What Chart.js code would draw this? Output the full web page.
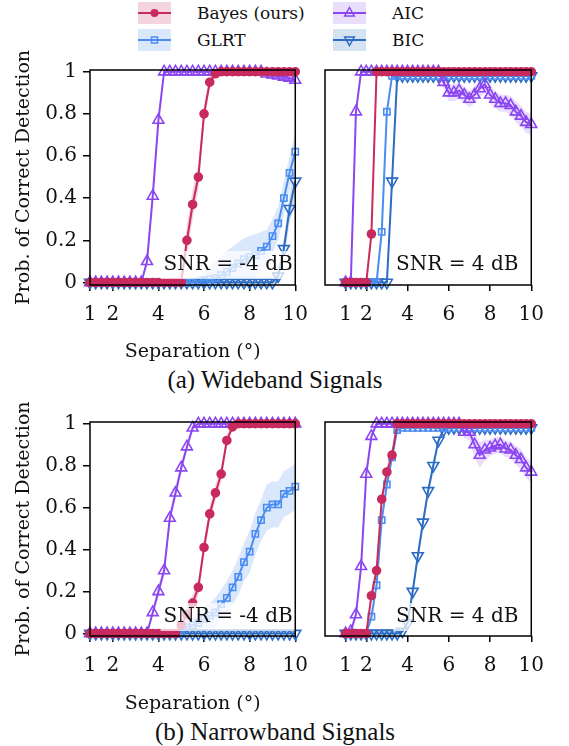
<!DOCTYPE html>
<html>
<head>
<meta charset="utf-8">
<script src="https://cdn.jsdelivr.net/npm/chart.js@4.4.0/dist/chart.umd.min.js"></script>
<style>
  body { margin: 0; background: #fff; width: 569px; height: 746px; position: relative; overflow: hidden; font-family: "DejaVu Serif", serif; color: #111; }
  canvas { position: absolute; }
  .lg { position: absolute; height: 22px; }
  .lg svg { position: absolute; left: 0; top: 0; }
  .lg span { position: absolute; left: 59px; top: 0; line-height: 22px; font-size: 17px; white-space: nowrap; }
  .cap { position: absolute; left: 0; width: 550px; text-align: center; font-family: "Liberation Serif", serif; font-size: 25px; }
</style>
</head>
<body>
<div id="legend"></div>
<canvas id="wbLo" width="320" height="314" style="left:0;top:50px"></canvas>
<canvas id="wbHi" width="244" height="314" style="left:312px;top:50px"></canvas>
<div class="cap" style="top:366px">(a) Wideband Signals</div>
<canvas id="nbLo" width="320" height="314" style="left:0;top:402px"></canvas>
<canvas id="nbHi" width="244" height="314" style="left:312px;top:402px"></canvas>
<div class="cap" style="top:718px">(b) Narrowband Signals</div>
<script>
// separation grid (degrees)
const sep = [1,1.25,1.5,1.75,2,2.25,2.5,2.75,3,3.25, 3.5,3.75,4,4.25,4.5,4.75,5,5.25,5.5,5.75, 6,6.25,6.5,6.75,7,7.25,7.5,7.75,8,8.25, 8.5,8.75,9,9.25,9.5,9.75,10];
const xTicks = [1, 2, 4, 6, 8, 10];
const yTicks = [0, 0.2, 0.4, 0.6, 0.8, 1];

// wideband, SNR = -4 dB
const wbLoBayes   = [0,0,0,0,0,0,0,0,0,0, 0,0,0,0,0,0,0,0.2,0.37,0.5, 0.8,0.95,0.99,1,1,1,1,1,1,1, 1,1,1,1,1,1,1];
const wbLoBayesCi = [0,0,0,0,0,0,0,0,0,0, 0,0,0,0,0,0.02,0.05,0.07,0.07,0.06, 0.05,0.03,0.01,0,0,0,0,0,0,0, 0,0,0,0,0,0,0];
const wbLoAic     = [0,0,0,0,0,0,0,0,0,0, 0.1,0.41,0.77,1,1,1,1,1,1,1, 1,1,1,1,1,1,1,1,1,1, 1,0.99,0.985,0.98,0.975,0.97,0.96];
const wbLoAicCi   = [0,0,0,0,0,0,0,0,0,0, 0.03,0.04,0.03,0.01,0,0,0,0,0,0, 0,0,0,0,0,0,0,0,0,0, 0,0.01,0.01,0.01,0.015,0.015,0.02];
const wbLoGlrt    = [0,0,0,0,0,0,0,0,0,0, 0,0,0,0,0,0,0,0,0,0.005, 0.01,0.015,0.02,0.035,0.05,0.07,0.09,0.11,0.12,0.13, 0.15,0.17,0.22,0.28,0.4,0.52,0.62];
const wbLoGlrtCi  = [0,0,0,0,0,0,0,0,0,0, 0,0,0,0,0,0,0,0,0.01,0.02, 0.04,0.06,0.08,0.09,0.1,0.1,0.1,0.1,0.1,0.1, 0.09,0.08,0.08,0.08,0.08,0.08,0.09];
const wbLoBic     = [0,0,0,0,0,0,0,0,0,0, 0,0,0,0,0,0,0,0,0,0, 0,0,0,0,0,0,0,0,0,0, 0,0,0,0.03,0.16,0.35,0.48];
const wbLoBicCi   = [0,0,0,0,0,0,0,0,0,0, 0,0,0,0,0,0,0,0,0,0, 0.01,0.02,0.02,0.03,0.03,0.03,0.03,0.03,0.03,0.03, 0.03,0.03,0.03,0.04,0.05,0.07,0.08];

// wideband, SNR = 4 dB
const wbHiBayes   = [0,0,0,0,0,0.23,1,1,1,1, 1,1,1,1,1,1,1,1,1,1, 1,1,1,1,1,1,1,1,1,1, 1,1,1,1,1,1,1];
const wbHiBayesCi = [0,0,0,0,0,0.03,0,0,0,0, 0,0,0,0,0,0,0,0,0,0, 0,0,0,0,0,0,0,0,0,0, 0,0,0,0,0,0,0];
const wbHiAic     = [0,0,0.81,1,1,1,1,1,1,1, 1,1,1,1,1,1,1,1,1,0.95, 0.9,0.9,0.91,0.89,0.87,0.89,0.92,0.94,0.89,0.87, 0.85,0.85,0.84,0.81,0.79,0.76,0.75];
const wbHiAicCi   = [0,0,0.03,0,0,0,0,0,0,0, 0,0,0,0,0,0,0,0,0.01,0.03, 0.04,0.04,0.04,0.04,0.04,0.04,0.04,0.04,0.04,0.04, 0.04,0.04,0.045,0.05,0.05,0.05,0.05];
const wbHiGlrt    = [0,0,0,0,0,0,0,0.24,0.81,0.98, 0.98,0.98,0.98,0.98,0.98,0.98,0.98,0.98,0.98,0.98, 0.98,0.98,0.98,0.98,0.98,0.98,0.98,0.98,0.98,0.98, 0.98,0.98,0.98,0.98,0.98,0.98,0.98];
const wbHiGlrtCi  = [0,0,0,0,0,0,0,0.03,0.03,0.01, 0,0,0,0,0,0,0,0,0,0, 0,0,0,0,0,0,0,0,0,0, 0,0,0,0,0,0,0];
const wbHiBic     = [0,0,0,0,0,0,0,0,0,0.48, 0.98,0.98,0.98,0.98,0.98,0.98,0.98,0.98,0.98,0.98, 0.98,0.98,0.98,0.98,0.98,0.98,0.98,0.98,0.98,0.98, 0.98,0.98,0.98,0.98,0.98,0.98,0.98];
const wbHiBicCi   = [0,0,0,0,0,0,0,0,0,0.04, 0,0,0,0,0,0,0,0,0,0, 0,0,0,0,0,0,0,0,0,0, 0,0,0,0,0,0,0];

// narrowband, SNR = -4 dB
const nbLoBayes   = [0,0,0,0,0,0,0,0,0,0, 0,0,0,0,0,0,0.04,0.09,0.145,0.22, 0.41,0.57,0.67,0.76,0.92,0.985,1,1,1,1, 1,1,1,1,1,1,1];
const nbLoBayesCi = [0,0,0,0,0,0,0,0,0,0, 0,0,0,0,0,0.01,0.03,0.04,0.04,0.04, 0.04,0.04,0.04,0.04,0.03,0.01,0,0,0,0, 0,0,0,0,0,0,0];
const nbLoAic     = [0,0,0,0,0,0,0,0,0,0, 0,0.1,0.2,0.3,0.55,0.67,0.79,0.89,0.98,1, 1,1,1,1,1,1,1,1,1,1, 1,1,1,1,1,1,1];
const nbLoAicCi   = [0,0,0,0,0,0,0,0,0,0, 0,0.02,0.03,0.03,0.03,0.03,0.03,0.02,0.01,0, 0,0,0,0,0,0,0,0,0,0, 0,0,0,0,0,0,0];
const nbLoGlrt    = [0,0,0,0,0,0,0,0,0,0, 0,0,0,0,0,0,0,0.03,0.04,0.05, 0.07,0.085,0.1,0.14,0.17,0.22,0.27,0.34,0.39,0.475, 0.54,0.6,0.615,0.615,0.665,0.68,0.7];
const nbLoGlrtCi  = [0,0,0,0,0,0,0,0,0,0, 0,0,0,0,0,0,0.02,0.03,0.04,0.05, 0.06,0.06,0.07,0.07,0.08,0.08,0.09,0.09,0.1,0.1, 0.1,0.11,0.11,0.11,0.11,0.11,0.11];
const nbLoBic     = [0,0,0,0,0,0,0,0,0,0, 0,0,0,0,0,0,0,0,0,0, 0,0,0,0,0,0,0,0,0,0, 0,0,0,0,0,0,0];
const nbLoBicCi   = [0,0,0,0,0,0,0,0,0,0, 0,0,0,0,0,0,0,0,0,0, 0,0,0,0,0,0,0,0,0,0, 0,0,0,0,0,0,0];

// narrowband, SNR = 4 dB
const nbHiBayes   = [0,0,0,0,0,0.18,0.3,0.64,0.77,0.85, 1,1,1,1,1,1,1,1,1,1, 1,1,1,1,1,1,1,1,1,1, 1,1,1,1,1,1,1];
const nbHiBayesCi = [0,0,0,0,0,0.03,0.03,0.03,0.03,0.03, 0,0,0,0,0,0,0,0,0,0, 0,0,0,0,0,0,0,0,0,0, 0,0,0,0,0,0,0];
const nbHiAic     = [0,0.01,0.09,0.32,0.76,0.94,1,1,1,1, 1,1,1,1,1,1,1,1,1,1, 1,1,1,0.96,0.96,0.9,0.85,0.875,0.885,0.895, 0.9,0.88,0.875,0.85,0.83,0.79,0.77];
const nbHiAicCi   = [0,0,0.02,0.03,0.03,0.02,0,0,0,0, 0,0,0,0,0,0,0,0,0,0, 0,0,0.01,0.03,0.04,0.06,0.06,0.05,0.04,0.04, 0.04,0.04,0.04,0.045,0.05,0.05,0.05];
const nbHiGlrt    = [0,0,0,0,0,0.08,0.23,0.54,0.71,0.84, 0.97,0.98,0.98,0.98,0.98,0.98,0.98,0.98,0.98,0.98, 0.98,0.98,0.98,0.98,0.98,0.98,0.98,0.98,0.98,0.98, 0.98,0.98,0.98,0.98,0.98,0.98,0.98];
const nbHiGlrtCi  = [0,0,0,0,0,0.03,0.03,0.03,0.03,0.03, 0.01,0,0,0,0,0,0,0,0,0, 0,0,0,0,0,0,0,0,0,0, 0,0,0,0,0,0,0];
const nbHiBic     = [0,0,0,0,0,0,0,0,0,0, 0,0.01,0.05,0.2,0.37,0.53,0.68,0.8,0.92,0.97, 0.98,0.98,0.98,0.98,0.98,0.98,0.98,0.98,0.98,0.98, 0.98,0.98,0.98,0.98,0.98,0.98,0.98];
const nbHiBicCi   = [0,0,0,0,0,0,0,0,0,0, 0,0.01,0.02,0.03,0.03,0.03,0.03,0.03,0.02,0.01, 0,0,0,0,0,0,0,0,0,0, 0,0,0,0,0,0,0];

const methods = [
  { name: 'Bayes (ours)', color: '#c92a5e', band: 'rgba(201,42,94,0.2)',  style: 'circle',   rot: 0,   r: 4,   filled: true },
  { name: 'AIC',          color: '#8b46f2', band: 'rgba(139,70,242,0.18)', style: 'triangle', rot: 0,   r: 6.3, filled: false },
  { name: 'GLRT',         color: '#4b8df0', band: 'rgba(75,141,240,0.2)',  style: 'rect',     rot: 0,   r: 4.4, filled: false },
  { name: 'BIC',          color: '#2c6cc2', band: 'rgba(44,108,194,0.2)',  style: 'triangle', rot: 180, r: 6.3, filled: false }
];

// legend (two columns)
const legendPos = [[138, 2], [333, 2], [138, 29], [333, 29]];
const marks = {
  circle: c => `<circle cx="16.5" cy="11" r="4" fill="${c}"/>`,
  triangle: c => `<polygon points="16.5,5.5 21.3,14 11.7,14" fill="none" stroke="${c}" stroke-width="1.5"/>`,
  rect: c => `<rect x="13.5" y="8" width="6" height="6" fill="none" stroke="${c}" stroke-width="1.5"/>`,
  down: c => `<polygon points="16.5,16.5 21.3,8 11.7,8" fill="none" stroke="${c}" stroke-width="1.5"/>`
};
document.getElementById('legend').innerHTML = methods.map((m, i) => {
  const mk = m.rot ? marks.down(m.color) : marks[m.style](m.color);
  return `<div class="lg" style="left:${legendPos[i][0]}px;top:${legendPos[i][1]}px">
    <svg width="33" height="22"><rect width="33" height="22" fill="${m.band}"/>
    <line x1="0" y1="11" x2="33" y2="11" stroke="${m.color}" stroke-width="2"/>${mk}</svg>
    <span>${m.name}</span></div>`;
}).join('');

const snrBox = {
  id: 'snrBox',
  afterDatasetsDraw(chart, args, o) {
    const { ctx, chartArea: a } = chart;
    ctx.save();
    ctx.font = '20px "DejaVu Serif"';
    const w = ctx.measureText(o.text).width;
    const cx = a.left + o.fx * (a.right - a.left);
    const cy = a.bottom - o.dy;
    ctx.fillStyle = 'rgba(255,255,255,0.72)';
    ctx.fillRect(cx - w / 2 - 3, cy - 14, w + 6, 28);
    ctx.fillStyle = '#111';
    ctx.textAlign = 'center';
    ctx.textBaseline = 'middle';
    ctx.fillText(o.text, cx, cy);
    ctx.restore();
  },
  afterDraw(chart) {
    const { ctx, chartArea: a } = chart;
    ctx.save();
    ctx.strokeStyle = '#000';
    ctx.lineWidth = 1.5;
    ctx.strokeRect(a.left, a.top, a.right - a.left, a.bottom - a.top);
    ctx.restore();
  }
};

function pts(v) { return sep.map((x, i) => ({ x, y: v[i] })); }

function panel(id, series, opt) {
  const datasets = [];
  series.forEach(([v, ci], k) => {
    const m = methods[k];
    datasets.push({ data: sep.map((x, i) => ({ x, y: Math.max(0, v[i] - ci[i]) })),
      borderWidth: 0, pointRadius: 0, fill: false, order: 10 });
    datasets.push({ data: sep.map((x, i) => ({ x, y: Math.min(1, v[i] + ci[i]) })),
      borderWidth: 0, pointRadius: 0, fill: '-1', backgroundColor: m.band, order: 10 });
  });
  series.forEach(([v], k) => {
    const m = methods[k];
    datasets.push({
      data: pts(v),
      borderColor: m.color,
      borderWidth: 2,
      pointStyle: m.style,
      pointRotation: m.rot,
      pointRadius: m.r,
      pointBorderWidth: 1.6,
      pointBorderColor: m.color,
      pointBackgroundColor: m.filled ? m.color : 'rgba(0,0,0,0)',
      fill: false,
      clip: false,
      order: k
    });
  });

  const tickFont = { family: 'DejaVu Serif', size: 20 };
  const titleFont = { family: 'DejaVu Serif', size: 19 };

  new Chart(document.getElementById(id), {
    type: 'line',
    data: { datasets },
    plugins: [snrBox],
    options: {
      responsive: false,
      animation: false,
      events: [],
      layout: { padding: { top: 20, left: opt.left ? 0 : 13, right: opt.left ? 14 : 15, bottom: 0 } },
      plugins: {
        legend: { display: false },
        tooltip: { enabled: false },
        snrBox: { text: opt.snr, fx: opt.fx, dy: opt.dy }
      },
      scales: {
        x: {
          type: 'linear',
          min: opt.xmin,
          max: 10,
          afterBuildTicks: s => { s.ticks = xTicks.map(v => ({ value: v })); },
          afterFit: s => { s.height = opt.xh; },
          ticks: { font: tickFont, color: '#111', padding: 12, maxRotation: 0, autoSkip: false, callback: v => String(v) },
          grid: { drawOnChartArea: false, tickLength: 6, color: '#000', lineWidth: 1.5 },
          border: { display: false },
          title: { display: opt.left, text: 'Separation (°)', font: titleFont, color: '#111', padding: { top: 0, bottom: 1 } }
        },
        y: {
          display: opt.left,
          min: -0.012,
          max: 1.008,
          afterBuildTicks: s => { s.ticks = yTicks.map(v => ({ value: v })); },
          afterFit: s => { s.width = opt.left ? 90 : 0; },
          ticks: { font: tickFont, color: '#111', padding: 6, callback: v => String(v) },
          grid: { drawOnChartArea: false, tickLength: 7, color: '#000', lineWidth: 1.5 },
          border: { display: false },
          title: { display: true, text: 'Prob. of Correct Detection', font: titleFont, color: '#111', padding: { top: 13, bottom: 0 } }
        }
      }
    }
  });
}

panel('wbLo', [[wbLoBayes, wbLoBayesCi], [wbLoAic, wbLoAicCi], [wbLoGlrt, wbLoGlrtCi], [wbLoBic, wbLoBicCi]],
  { left: true, xmin: 1, xh: 79, snr: 'SNR = -4 dB', fx: 0.673, dy: 20 });
panel('wbHi', [[wbHiBayes, wbHiBayesCi], [wbHiAic, wbHiAicCi], [wbHiGlrt, wbHiGlrtCi], [wbHiBic, wbHiBicCi]],
  { left: false, xmin: 0, xh: 79, snr: 'SNR = 4 dB', fx: 0.641, dy: 20 });
panel('nbLo', [[nbLoBayes, nbLoBayesCi], [nbLoAic, nbLoAicCi], [nbLoGlrt, nbLoGlrtCi], [nbLoBic, nbLoBicCi]],
  { left: true, xmin: 1, xh: 80, snr: 'SNR = -4 dB', fx: 0.673, dy: 19 });
panel('nbHi', [[nbHiBayes, nbHiBayesCi], [nbHiAic, nbHiAicCi], [nbHiGlrt, nbHiGlrtCi], [nbHiBic, nbHiBicCi]],
  { left: false, xmin: 0, xh: 80, snr: 'SNR = 4 dB', fx: 0.641, dy: 19 });
</script>
</body>
</html>
